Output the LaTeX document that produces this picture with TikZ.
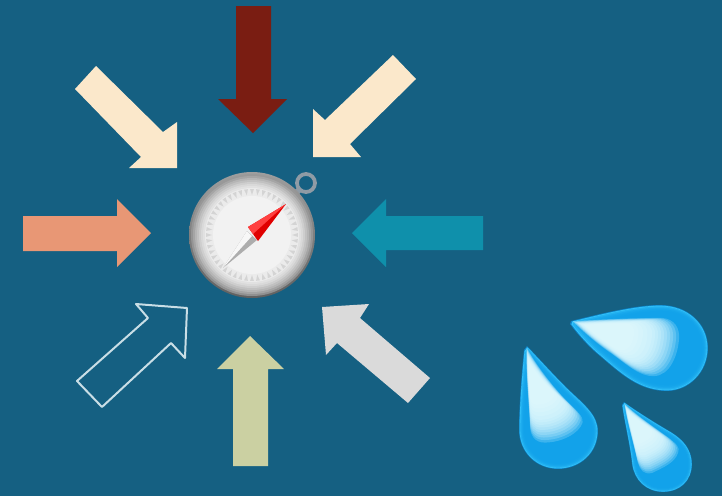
\documentclass[tikz,border=0pt]{standalone}
\usepackage{tikz}
\definecolor{slidebg}{HTML}{156082}
\definecolor{creamarrow}{HTML}{FBE8CB}
\definecolor{redarrow}{HTML}{7A1D12}
\definecolor{salmonarrow}{HTML}{E89775}
\definecolor{tealarrow}{HTML}{0F90AB}
\definecolor{sagearrow}{HTML}{CBD0A2}
\definecolor{greyarrow}{HTML}{DADADA}
\definecolor{sketchline}{HTML}{C9DEE6}
\definecolor{dropedge}{HTML}{0C86CC}
\definecolor{droprim}{HTML}{35C4FA}
\definecolor{dropbody}{HTML}{12A2EA}
\definecolor{dropglow}{HTML}{E6FCFF}
\definecolor{ringgrey}{HTML}{8F9BA5}
\tikzset{
  arrowshape/.style={line join=miter},
  sketchshape/.style={draw=sketchline, line width=1.7pt, line join=round},
  toothshape/.style={fill=black!17},
}
\newcommand{\dropA}{(571,321) .. controls (600,314) and (635,305) .. (660,305) .. controls (688,305) and (708,324) .. (708,348) .. controls (708,372) and (689,391) .. (667,391) .. controls (640,391) and (622,375) .. (600,356) .. controls (590,348) and (578,335) .. (570,324) -- cycle}
\newcommand{\glowA}{(575,322) .. controls (600,320) and (635,319) .. (655,319) .. controls (666,320) and (671,328) .. (670,338) .. controls (669,352) and (662,371) .. (647,371) .. controls (635,371) and (625,362) .. (610,351) .. controls (598,343) and (585,332) .. (575,322) -- cycle}
\newcommand{\dropB}{(527,346) .. controls (533,352) and (552,373) .. (567,388) .. controls (585,405) and (598,415) .. (598,431) .. controls (598,453) and (580,469) .. (558,469) .. controls (536,469) and (519,452) .. (519,430) .. controls (519,405) and (522,370) .. (524,350) -- cycle}
\newcommand{\glowB}{(527,350) .. controls (535,365) and (550,385) .. (565,400) .. controls (572,407) and (578,412) .. (577,417) .. controls (574,427) and (558,435) .. (543,435) .. controls (534,435) and (530,428) .. (530,420) .. controls (529,400) and (526,370) .. (527,350) -- cycle}
\newcommand{\dropC}{(624,402) .. controls (632,408) and (652,421) .. (671,432) .. controls (684,440) and (692,450) .. (692,464) .. controls (692,481) and (680,492) .. (663,492) .. controls (646,492) and (634,480) .. (632,464) .. controls (630,445) and (624,420) .. (622,405) -- cycle}
\newcommand{\glowC}{(625,405) .. controls (635,415) and (650,425) .. (665,436) .. controls (671,441) and (675,444) .. (673,449) .. controls (670,458) and (660,462) .. (650,467) .. controls (642,469) and (639,464) .. (637,458) .. controls (633,440) and (627,420) .. (625,405) -- cycle}
\newcommand{\waterdrop}[4]{
  \fill[dropedge] #1;
  \begin{scope}
    \clip #1;
    \fill[droprim, scale around={.985:#2}] #1;
    \foreach \s in {.97,.94,.91,.88,.85}
      \fill[dropbody, fill opacity=.5, scale around={\s:#2}] #1;
    \foreach \s in {1.12,1.08,1.04,1,.96,.92,.88,.84,.8,.76,.7,.64,.58,.52}
      \fill[dropglow, fill opacity=.2, scale around={\s:#4}] #3;
  \end{scope}
}

\begin{document}
\begin{tikzpicture}[x=0.03cm, y=-0.03cm]
  \fill[slidebg] (0,0) rectangle (722,496);
  \useasboundingbox (0,0) rectangle (722,496);

  % arrows round the compass
  \fill[redarrow, arrowshape] (236,6) -- (271,6) -- (271,99) -- (287,99) -- (253,133) -- (218,99) -- (236,99) -- cycle;
  \fill[creamarrow, arrowshape] (96,66) -- (163,132) -- (177,122) -- (177,168) -- (129,168) -- (141,157) -- (75,89) -- cycle;
  \fill[creamarrow, arrowshape] (393,55) -- (416,79) -- (350,144) -- (361,157) -- (313,157) -- (313,109) -- (325,120) -- cycle;
  \fill[salmonarrow, arrowshape] (23,216) -- (117,216) -- (117,199) -- (151,233) -- (117,267) -- (117,251) -- (23,251) -- cycle;
  \fill[tealarrow, arrowshape] (483,216) -- (386,216) -- (386,199) -- (352,233) -- (386,267) -- (386,250) -- (483,250) -- cycle;
  \fill[sagearrow, arrowshape] (233,466) -- (233,369) -- (217,369) -- (250,336) -- (284,369) -- (268,369) -- (268,466) -- cycle;
  \fill[greyarrow, arrowshape] (322,307) -- (369,304) -- (360,318) -- (430,378) -- (408,403) -- (337,343) -- (326,355) -- cycle;
  \draw[sketchshape] (136,304) -- (187,308) -- (185,358) -- (171,343) -- (102,407) -- (77,381) -- (148,318) -- cycle;

  % compass
  \draw[ringgrey, line width=3.2pt] (306,183) circle (9);
  \draw[ringgrey, line width=5pt] (294,195) -- (299,190);
  \shade[top color=black!38, bottom color=black!62] (252,235) circle (63);
  \foreach \r/\v in {61/40,59/34,57/28,55/23,53/18,51/14,49/11}
    \fill[black!\v, fill opacity=.85] (252,235) circle (\r);
  \fill[black!8] (252,235) circle (47);
  \begin{scope}[shift={(252,235)}]
    \foreach \a in {0,7.5,...,352.5}
      \fill[toothshape] (\a-2.4:46) -- (\a+2.4:46) -- (\a:40) -- cycle;
  \end{scope}
  \fill[black!5] (252,235) circle (39);
  \fill[black!32] (247,231) -- (257,240) -- (223,268) -- cycle;
  \fill[black!3] (247,231) -- (252,236) -- (223,268) -- cycle;
  \fill[red!88!black] (286,204) -- (248,227) -- (258,241) -- cycle;
  \fill[red!75!white] (286,204) -- (248,227) -- (253,234) -- cycle;

  % water drops
  \waterdrop{\dropA}{(667,348)}{\glowA}{(595,328)}
  \waterdrop{\dropB}{(558,430)}{\glowB}{(530,372)}
  \waterdrop{\dropC}{(663,463)}{\glowC}{(630,418)}
\end{tikzpicture}
\end{document}
